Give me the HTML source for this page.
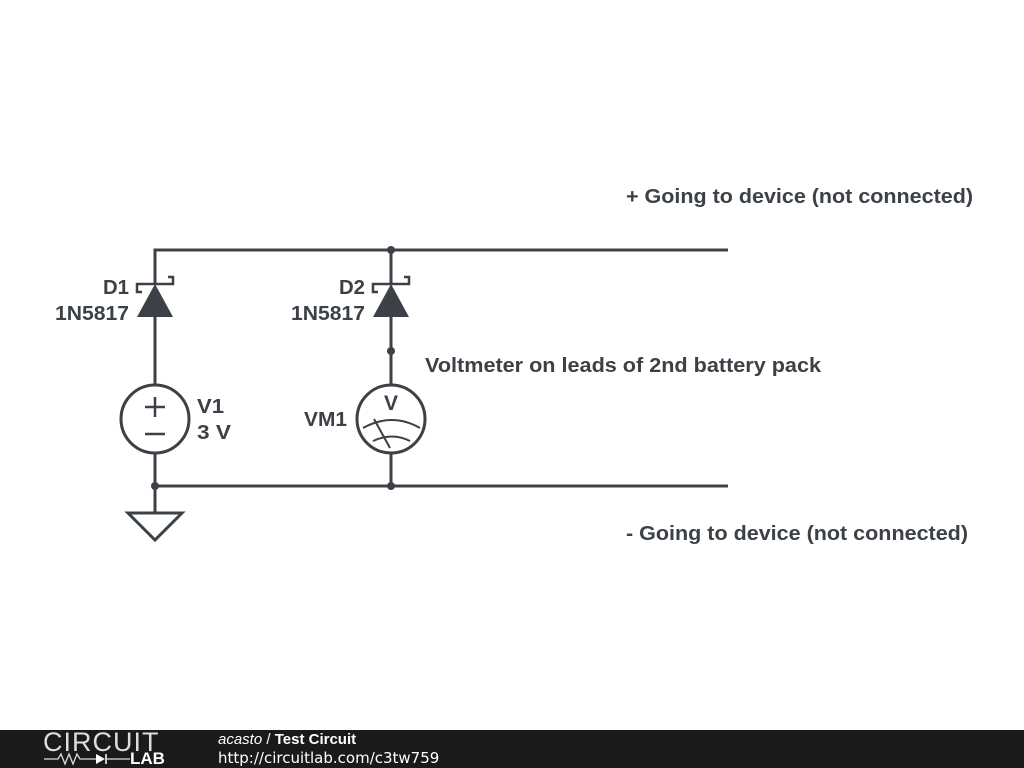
<!DOCTYPE html>
<html><head><style>
body{margin:0;width:1024px;height:768px;background:#fff;overflow:hidden;position:relative;font-family:"Liberation Sans",sans-serif}
.f{position:absolute;left:0;top:730px;width:1024px;height:38px;background:#1a1a1a}
</style></head><body>
<svg width="1024" height="730" style="position:absolute;left:0;top:0">
<g stroke="#3b4146" stroke-width="3" fill="none">
<polyline points="728,250 155,250 155,283"/>
<line x1="155" y1="317" x2="155" y2="385"/>
<line x1="155" y1="453" x2="155" y2="513"/>
<line x1="155" y1="486" x2="728" y2="486"/>
<line x1="391" y1="250" x2="391" y2="283"/>
<line x1="391" y1="317" x2="391" y2="385"/>
<line x1="391" y1="453" x2="391" y2="486"/>
<polyline points="142,292 137,292 137,284 173,284 173,277 168,277" stroke-width="2.5"/>
<polyline points="378,292 373,292 373,284 409,284 409,277 404,277" stroke-width="2.5"/>
<circle cx="155" cy="419" r="34"/>
<circle cx="391" cy="419" r="34"/>
<polygon points="128,513 182,513 155,540"/>
<line x1="145" y1="407" x2="165" y2="407" stroke-width="2.5"/>
<line x1="155" y1="397" x2="155" y2="417" stroke-width="2.5"/>
<line x1="145" y1="434" x2="165" y2="434" stroke-width="2.5"/>
<path d="M363,428 Q392,412 420,428" stroke-width="2"/>
<path d="M373,441 Q392,432 410,441" stroke-width="2"/>
<line x1="374" y1="419" x2="390" y2="448" stroke-width="2"/>
</g>
<g fill="#3b4146">
<polygon points="155,284 137,317 173,317"/>
<polygon points="391,284 373,317 409,317"/>
<circle cx="391" cy="250" r="4"/><circle cx="391" cy="351" r="4"/>
<circle cx="155" cy="486" r="4"/><circle cx="391" cy="486" r="4"/>
</g>
<g fill="#3b4146" font-family="Liberation Sans, sans-serif" font-weight="bold" font-size="20" lengthAdjust="spacingAndGlyphs">
<text x="626" y="203" textLength="347" lengthAdjust="spacingAndGlyphs">+ Going to device (not connected)</text>
<text x="626" y="540" textLength="342" lengthAdjust="spacingAndGlyphs">- Going to device (not connected)</text>
<text x="425" y="372" textLength="396" lengthAdjust="spacingAndGlyphs">Voltmeter on leads of 2nd battery pack</text>
<text x="103" y="294" textLength="26" lengthAdjust="spacingAndGlyphs">D1</text>
<text x="55" y="320" textLength="74" lengthAdjust="spacingAndGlyphs">1N5817</text>
<text x="339" y="294" textLength="26" lengthAdjust="spacingAndGlyphs">D2</text>
<text x="291" y="320" textLength="74" lengthAdjust="spacingAndGlyphs">1N5817</text>
<text x="197" y="413" textLength="27" lengthAdjust="spacingAndGlyphs">V1</text>
<text x="197" y="439" textLength="34" lengthAdjust="spacingAndGlyphs">3 V</text>
<text x="304" y="426" textLength="43" lengthAdjust="spacingAndGlyphs">VM1</text>
<text x="391" y="410" text-anchor="middle" font-size="21">V</text>
</g>
</svg>
<div class="f">
<div style="position:absolute;left:43px;top:-1px;color:#ddd;font-size:27px;letter-spacing:1px;line-height:27px;font-weight:300">CIRCUIT</div>
<svg width="140" height="14" style="position:absolute;left:44px;top:22px"><polyline points="0,7 14,7 17,2 21,12 25,2 29,12 33,2 36,7 52,7" stroke="#ddd" fill="none" stroke-width="1.3"/><polygon points="52,2 52,12 61,7" fill="#fff"/><line x1="62" y1="2" x2="62" y2="12" stroke="#fff" stroke-width="1.5"/><line x1="62" y1="7" x2="86" y2="7" stroke="#ddd" stroke-width="1.3"/></svg>
<div style="position:absolute;left:130px;top:20px;color:#fff;font-weight:bold;font-size:17px;line-height:17px">LAB</div>
<div style="position:absolute;left:218px;top:1px;color:#fff;font-size:15px"><i>acasto</i> / <b>Test Circuit</b></div>
<div style="position:absolute;left:218px;top:19px;color:#fff;font-size:15px;font-family:'DejaVu Sans',sans-serif">http://circuitlab.com/c3tw759</div>
</div>
</body></html>
